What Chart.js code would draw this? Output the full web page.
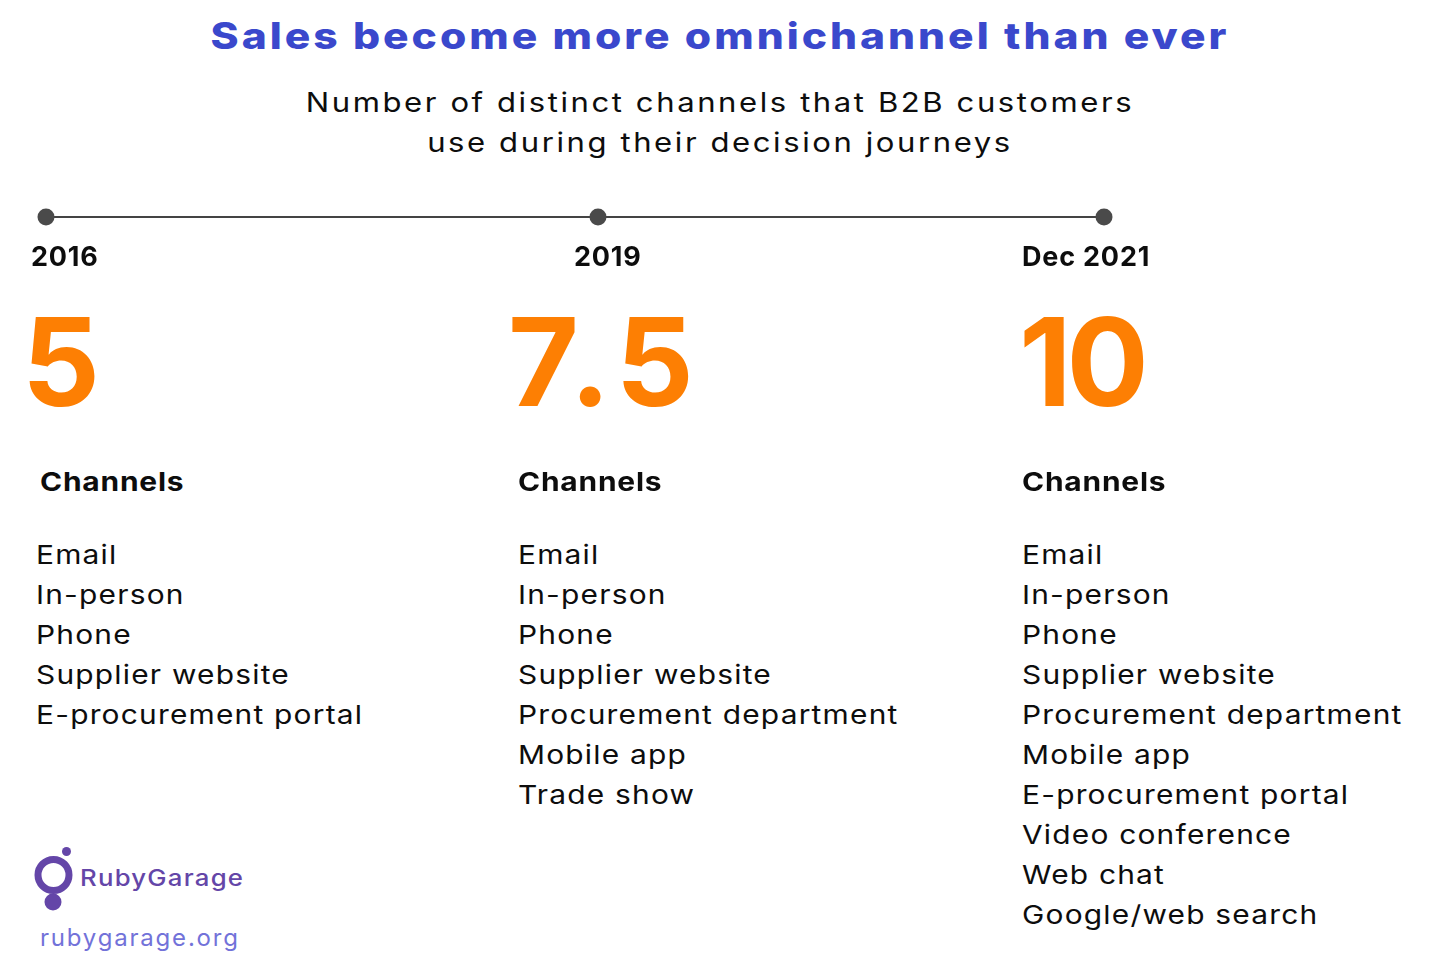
<!DOCTYPE html>
<html>
<head>
<meta charset="utf-8">
<script src="https://cdn.jsdelivr.net/npm/chart.js@4.4.1/dist/chart.umd.min.js"></script>
<style>
  html, body { margin: 0; padding: 0; background: #ffffff; }
  body { width: 1440px; height: 978px; position: relative; overflow: hidden; font-family: Inter, "Open Sans", sans-serif; color: #0d0d0d; }
  .abs { position: absolute; white-space: nowrap; line-height: 1; }
  #title { left: 0; width: 1440px; top: 17px; text-align: center; font-size: 37px; font-weight: 800; color: #3a48cc; letter-spacing: 2.6px; transform: scaleX(1.15); transform-origin: 720px 0; }
  #subtitle { left: 0; width: 1440px; top: 83px; text-align: center; font-size: 27px; font-weight: 400; line-height: 40px; letter-spacing: 2.25px; white-space: normal; transform: scaleX(1.15); transform-origin: 720px 0; }
  #timeline { position: absolute; left: 0; top: 177px; width: 1440px; height: 80px; }
  .year { font-size: 27px; font-weight: 700; top: 243px; letter-spacing: 0.8px; }
  .count { font-size: 122px; font-weight: 700; color: #fd7f03; top: 301px; }
  .head { font-size: 26px; font-weight: 700; top: 469px; letter-spacing: 0.7px; transform: scaleX(1.15); transform-origin: 0 0; }
  .list { font-size: 26px; font-weight: 400; top: 535px; line-height: 40px; letter-spacing: 1.05px; transform: scaleX(1.15); transform-origin: 0 0; }
  #brand { left: 80px; top: 867px; font-size: 23px; font-weight: 500; color: #6446a8; letter-spacing: 1.1px; transform: scaleX(1.12); transform-origin: 0 0; }
  #url { left: 40px; top: 926px; font-size: 24px; font-weight: 400; color: #7272d9; letter-spacing: 1.8px; }
  #logo { position: absolute; left: 30px; top: 840px; }
</style>
</head>
<body>
<div id="title" class="abs">Sales become more omnichannel than ever</div>
<div id="subtitle" class="abs">Number of distinct channels that B2B customers<br>use during their decision journeys</div>
<canvas id="timeline" width="1440" height="80"></canvas>
<div id="columns"></div>
<svg id="logo" width="60" height="80" viewBox="0 0 60 80">
  <circle cx="23.5" cy="35" r="15.5" fill="none" stroke="#6446a8" stroke-width="7"/>
  <circle cx="36.5" cy="11.5" r="4.5" fill="#6446a8"/>
  <circle cx="23" cy="62" r="8.5" fill="#6446a8"/>
</svg>
<div id="brand" class="abs">RubyGarage</div>
<div id="url" class="abs">rubygarage.org</div>

<script>
// ---- data ----
const periodLabels = ['2016', '2019', 'Dec 2021'];
// position of each period on the timeline, in (approximate) years
const periodYears = [2016, 2019, 2021.75];
const channelCounts = [5, 7.5, 10];
const channels2016 = ['Email', 'In-person', 'Phone', 'Supplier website', 'E-procurement portal'];
const channels2019 = ['Email', 'In-person', 'Phone', 'Supplier website', 'Procurement department', 'Mobile app', 'Trade show'];
const channels2021 = ['Email', 'In-person', 'Phone', 'Supplier website', 'Procurement department', 'Mobile app', 'E-procurement portal', 'Video conference', 'Web chat', 'Google/web search'];
const channelLists = [channels2016, channels2019, channels2021];
const headingText = 'Channels';

// ---- layout (kept apart from data) ----
const yearLeft = [31, 574, 1022];
const countLeft = [22, 508, 1019];
const countSpacing = [0, 6, -5];
const headLeft = [40, 518, 1022];
const listLeft = [36, 518, 1022];

const cols = document.getElementById('columns');
function addText(cls, text, left) {
  const d = document.createElement('div');
  d.className = 'abs ' + cls;
  d.style.left = left + 'px';
  d.textContent = text;
  cols.appendChild(d);
  return d;
}
periodLabels.forEach((lab, i) => {
  addText('year', lab, yearLeft[i]);
  const c = addText('count', String(channelCounts[i]), countLeft[i]);
  c.style.letterSpacing = countSpacing[i] + 'px';
  addText('head', headingText, headLeft[i]);
  const l = addText('list', '', listLeft[i]);
  l.innerHTML = channelLists[i].map(s => s.replace(/&/g, '&amp;').replace(/</g, '&lt;')).join('<br>');
});

// ---- timeline drawn with Chart.js ----
new Chart(document.getElementById('timeline'), {
  type: 'scatter',
  data: {
    datasets: [{
      data: periodYears.map(x => ({ x: x, y: 0 })),
      showLine: true,
      borderColor: '#444444',
      borderWidth: 2,
      backgroundColor: '#4a4a4a',
      pointBackgroundColor: '#4a4a4a',
      pointBorderWidth: 0,
      pointRadius: 8.5,
      pointHoverRadius: 8.5,
      clip: false
    }]
  },
  options: {
    responsive: false,
    animation: false,
    events: [],
    layout: { padding: { left: 46, right: 336, top: 0, bottom: 0 } },
    plugins: { legend: { display: false }, tooltip: { enabled: false } },
    scales: {
      x: { type: 'linear', display: false, min: periodYears[0], max: periodYears[periodYears.length - 1] },
      y: { display: false, min: -1, max: 1 }
    }
  }
});
</script>
</body>
</html>
